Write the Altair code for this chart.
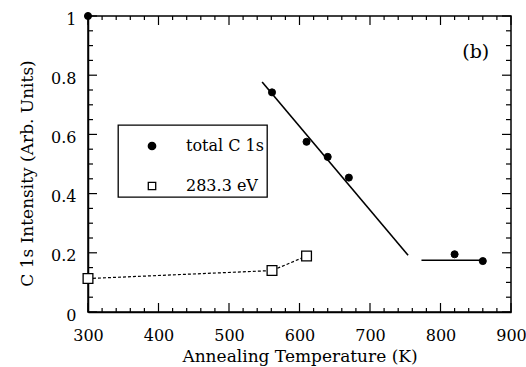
import altair as alt
import pandas as pd

# Measured C 1s intensities
total_temp = [300, 561, 610, 640, 670, 820, 860]
total_int = [1.0, 0.742, 0.575, 0.524, 0.454, 0.195, 0.172]
peak_temp = [300, 561, 610]
peak_int = [0.113, 0.140, 0.189]

# Straight-line fits through the high-temperature points
fit_group = ["decay", "decay", "plateau", "plateau"]
fit_temp = [547, 754, 773, 859]
fit_int = [0.777, 0.192, 0.175, 0.175]

series_names = ["total C 1s", "283.3 eV"]

# Axis tick positions
x_major = [300, 400, 500, 600, 700, 800, 900]
x_minor = [320, 340, 360, 380, 420, 440, 460, 480, 520, 540, 560, 580,
           620, 640, 660, 680, 720, 740, 760, 780, 820, 840, 860, 880]
y_major = [0, 0.2, 0.4, 0.6, 0.8, 1.0]
y_minor = [0.05, 0.1, 0.15, 0.25, 0.3, 0.35, 0.45, 0.5, 0.55,
           0.65, 0.7, 0.75, 0.85, 0.9, 0.95]

panel_label = ["(b)"]
panel_x = [850]
panel_y = [0.878]

W, H = 423, 296
FONT = "DejaVu Serif"

total = pd.DataFrame({"T": total_temp, "I": total_int,
                      "series": [series_names[0]] * len(total_temp)})
peak = pd.DataFrame({"T": peak_temp, "I": peak_int,
                     "series": [series_names[1]] * len(peak_temp)})
fits = pd.DataFrame({"g": fit_group, "T": fit_temp, "I": fit_int})
label_df = pd.DataFrame({"t": panel_label, "T": panel_x, "I": panel_y})

xs = alt.Scale(domain=[300, 900], nice=False, zero=False)
ys = alt.Scale(domain=[0, 1], nice=False)

x_axis = alt.Axis(
    values=x_major, format="d", ticks=False, tickSize=0, grid=False, labelFlush=False,
    title="Annealing Temperature (K)", labelFont=FONT, labelFontSize=16,
    labelColor="black", labelBaseline="alphabetic", labelPadding=28,
    titleFont=FONT, titleFontSize=17, titleFontWeight="normal", titleColor="black",
    titleBaseline="alphabetic", titleY=49, domainColor="black", domainWidth=1.5,
)
y_axis = alt.Axis(
    values=y_major, format="~g", ticks=False, tickSize=0, grid=False, labelFlush=False,
    title="C 1s Intensity (Arb. Units)", labelFont=FONT, labelFontSize=16,
    labelColor="black", labelPadding=12, labelOffset=3,
    titleFont=FONT, titleFontSize=17, titleFontWeight="normal", titleColor="black",
    titleBaseline="alphabetic", titleX=-56, titleY=157,
    domainColor="black", domainWidth=1.5,
)


def X(f="T"):
    return alt.X(f + ":Q", scale=xs, axis=x_axis)


def Y(f="I"):
    return alt.Y(f + ":Q", scale=ys, axis=y_axis)


legend = alt.Legend(
    title=" ", orient="none", legendX=30, legendY=109,
    strokeColor="black", fillColor="white", padding=3,
    titleFontSize=7, titlePadding=3,
    labelFont=FONT, labelFontSize=16, labelColor="black",
    labelOffset=26, symbolOffset=23, rowPadding=24,
    symbolSize=55, symbolStrokeWidth=1.3,
)
shape_enc = alt.Shape("series:N", legend=legend,
                      scale=alt.Scale(domain=series_names, range=["circle", "square"]))
fill_enc = alt.Fill("series:N", legend=legend,
                    scale=alt.Scale(domain=series_names, range=["black", "white"]))
stroke_enc = alt.Stroke("series:N", legend=legend,
                        scale=alt.Scale(domain=series_names, range=["black", "black"]))

dotted = alt.Chart(peak).mark_line(
    color="black", strokeWidth=1.2, strokeDash=[3, 2]
).encode(x=X(), y=Y())

fit_lines = alt.Chart(fits).mark_line(color="black", strokeWidth=1.6).encode(
    x=X(), y=Y(), detail="g:N"
)

dots = alt.Chart(total).mark_point(
    filled=True, strokeWidth=1.0, opacity=1, size=50
).encode(x=X(), y=Y(), shape=shape_enc, fill=fill_enc, stroke=stroke_enc)

squares = alt.Chart(peak).mark_point(
    filled=True, strokeWidth=1.3, opacity=1, size=95
).encode(x=X(), y=Y(), shape=shape_enc, fill=fill_enc, stroke=stroke_enc)

text = alt.Chart(label_df).mark_text(
    font=FONT, fontSize=19, color="black", align="center", baseline="middle"
).encode(x=X(), y=Y(), text="t:N")


# Inward-pointing ticks on all four sides: major 9 px, minor 4-5 px
def xticks(vals, center, length):
    return alt.Chart(pd.DataFrame({"T": vals})).mark_tick(
        color="black", thickness=1.2, size=length, orient="vertical", opacity=1
    ).encode(x=X(), y=alt.value(center))


def yticks(vals, center, length):
    return alt.Chart(pd.DataFrame({"I": vals})).mark_tick(
        color="black", thickness=1.2, size=length, orient="horizontal", opacity=1
    ).encode(y=Y(), x=alt.value(center))


ticks = [
    xticks(x_major, H - 4.5, 9), xticks(x_minor, H - 2, 4),
    xticks(x_major, 4.5, 9), xticks(x_minor, 2, 4),
    yticks(y_major, 4.5, 9), yticks(y_minor, 2.5, 5),
    yticks(y_major, W - 4.5, 9), yticks(y_minor, W - 2.5, 5),
]

chart = alt.layer(dotted, fit_lines, *ticks, dots, squares, text).properties(
    width=W, height=H,
    autosize=alt.AutoSizeParams(type="none"),
    padding={"left": 88, "top": 16, "right": 15, "bottom": 55},
).configure(
    background="white", font=FONT
).configure_view(
    stroke="black", strokeWidth=1.5
).configure_legend(
    strokeWidth=1.3
)

chart.save("out.html", embed_options={"renderer": "svg", "actions": False})
